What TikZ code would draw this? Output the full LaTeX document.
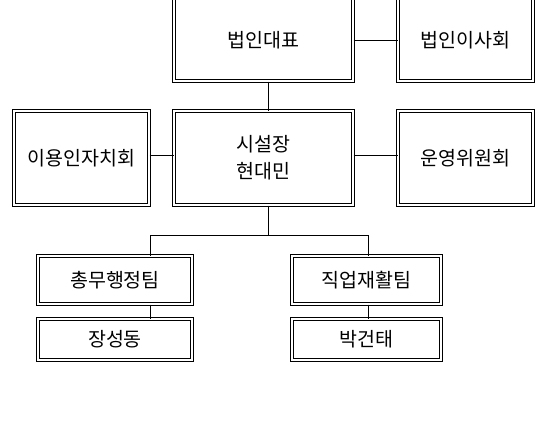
\documentclass[tikz,border=0pt]{standalone}
\usepackage{fontspec}
\newfontfamily\kr{Noto Sans CJK KR}
\begin{document}
\begin{tikzpicture}[x=1pt,y=-1pt,
  box/.style={draw=black, double, double distance=2pt, line width=1pt, inner sep=0pt, font=\kr\fontsize{19.5}{27}\selectfont, align=center},
  lbl/.style={font=\kr\fontsize{19.5}{27}\selectfont, inner sep=0pt},
  link/.style={draw=black, line width=1pt}]
\useasboundingbox (0,0) rectangle (547,429);
\clip (0,0) rectangle (547,429);
\fill[white] (0,0) rectangle (547,429);
% boxes (centre, path size = outer size - 4)
\node[box, minimum width=179pt, minimum height=90pt] (A) at (263.5,36) {};
\node[lbl] (At) at (263.5,40) {법인대표};
\node[box, minimum width=135pt, minimum height=90pt] (B) at (465.5,36) {};
\node[lbl] (Bt) at (465.5,40) {법인이사회};
\node[box, minimum width=179pt, minimum height=94pt] (C) at (263.5,158) {시설장\\현대민};
\node[box, minimum width=135pt, minimum height=94pt] (D) at (81.5,158) {이용인자치회};
\node[box, minimum width=135pt, minimum height=94pt] (E) at (465.5,158) {운영위원회};
\node[box, minimum width=154pt, minimum height=48pt] (F) at (115,280) {총무행정팀};
\node[box, minimum width=154pt, minimum height=41pt] (G) at (115,339.5) {장성동};
\node[box, minimum width=149pt, minimum height=48pt] (H) at (366.5,280) {직업재활팀};
\node[box, minimum width=149pt, minimum height=41pt] (I) at (366.5,339.5) {박건태};
% connector guides
\coordinate (v) at (268,0);
\coordinate (bus) at (0,235);
\coordinate (l) at (150,0);
\coordinate (r) at (368,0);
\coordinate (ya) at (0,40);
\coordinate (yc) at (0,155);
% connectors
\draw[link] (A.east |- ya) -- (B.west |- ya);
\draw[link] (A.south -| v) -- (C.north -| v);
\draw[link] (D.east |- yc) -- (C.west |- yc);
\draw[link] (C.east |- yc) -- (E.west |- yc);
\draw[link] (C.south -| v) -- (v |- bus);
\draw[link] (l |- F.north) -- (l |- bus) -- (r |- bus) -- (r |- H.north);
\draw[link] (F.south -| l) -- (G.north -| l);
\draw[link] (H.south -| r) -- (I.north -| r);
\end{tikzpicture}
\end{document}
